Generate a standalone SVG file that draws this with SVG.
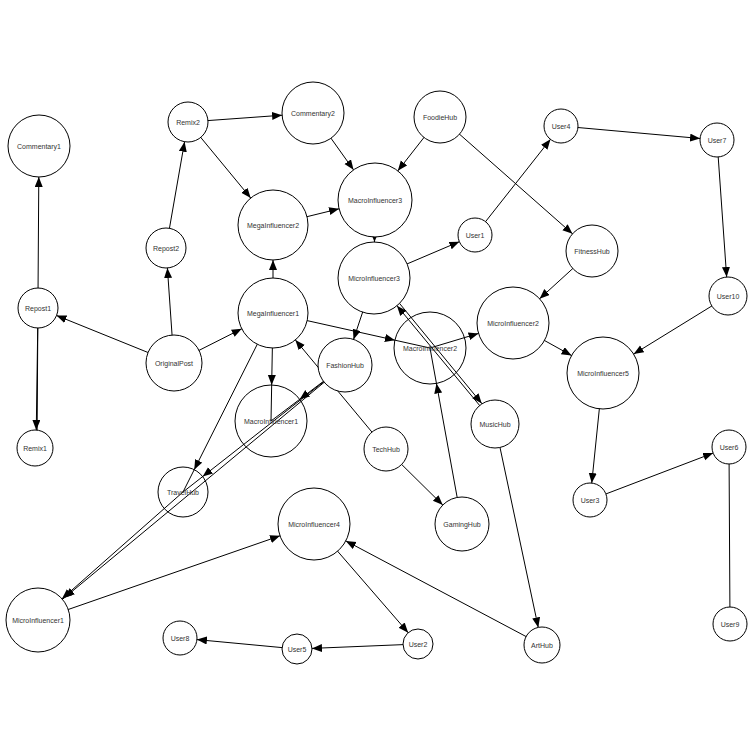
<svg xmlns="http://www.w3.org/2000/svg" width="750" height="750" viewBox="0 0 750 750">
<style>
circle{fill:#fff;stroke:#000;stroke-width:1}
text{font-family:"Liberation Sans",Arial,sans-serif;font-size:7px;text-anchor:middle;dominant-baseline:central;fill:#333}
#edges line{stroke:#000;stroke-width:1}
</style>
<defs>
<marker id="m15" markerUnits="userSpaceOnUse" markerWidth="30" markerHeight="10" refX="25" refY="4" orient="auto"><path d="M0,0L10,4L0,8z"/></marker>
<marker id="m17" markerUnits="userSpaceOnUse" markerWidth="30" markerHeight="10" refX="27" refY="4" orient="auto"><path d="M0,0L10,4L0,8z"/></marker>
<marker id="m18" markerUnits="userSpaceOnUse" markerWidth="30" markerHeight="10" refX="28" refY="4" orient="auto"><path d="M0,0L10,4L0,8z"/></marker>
<marker id="m19" markerUnits="userSpaceOnUse" markerWidth="30" markerHeight="10" refX="29" refY="4" orient="auto"><path d="M0,0L10,4L0,8z"/></marker>
<marker id="m20" markerUnits="userSpaceOnUse" markerWidth="31" markerHeight="10" refX="30" refY="4" orient="auto"><path d="M0,0L10,4L0,8z"/></marker>
<marker id="m22" markerUnits="userSpaceOnUse" markerWidth="33" markerHeight="10" refX="32" refY="4" orient="auto"><path d="M0,0L10,4L0,8z"/></marker>
<marker id="m24" markerUnits="userSpaceOnUse" markerWidth="35" markerHeight="10" refX="34" refY="4" orient="auto"><path d="M0,0L10,4L0,8z"/></marker>
<marker id="m25" markerUnits="userSpaceOnUse" markerWidth="36" markerHeight="10" refX="35" refY="4" orient="auto"><path d="M0,0L10,4L0,8z"/></marker>
<marker id="m26" markerUnits="userSpaceOnUse" markerWidth="37" markerHeight="10" refX="36" refY="4" orient="auto"><path d="M0,0L10,4L0,8z"/></marker>
<marker id="m27" markerUnits="userSpaceOnUse" markerWidth="38" markerHeight="10" refX="37" refY="4" orient="auto"><path d="M0,0L10,4L0,8z"/></marker>
<marker id="m31" markerUnits="userSpaceOnUse" markerWidth="42" markerHeight="10" refX="41" refY="4" orient="auto"><path d="M0,0L10,4L0,8z"/></marker>
<marker id="m32" markerUnits="userSpaceOnUse" markerWidth="43" markerHeight="10" refX="42" refY="4" orient="auto"><path d="M0,0L10,4L0,8z"/></marker>
<marker id="m35" markerUnits="userSpaceOnUse" markerWidth="46" markerHeight="10" refX="45" refY="4" orient="auto"><path d="M0,0L10,4L0,8z"/></marker>
<marker id="m36" markerUnits="userSpaceOnUse" markerWidth="47" markerHeight="10" refX="46" refY="4" orient="auto"><path d="M0,0L10,4L0,8z"/></marker>
<marker id="m37" markerUnits="userSpaceOnUse" markerWidth="48" markerHeight="10" refX="47" refY="4" orient="auto"><path d="M0,0L10,4L0,8z"/></marker>
</defs>
<rect width="750" height="750" fill="#fff"/>
<g id="edges">
<line x1="37" y1="448" x2="39" y2="146" marker-end="url(#m31)"/>
<line x1="38" y1="308" x2="36" y2="448" marker-end="url(#m18)"/>
<line x1="174" y1="363" x2="38" y2="308" marker-end="url(#m20)"/>
<line x1="174" y1="363" x2="166" y2="248" marker-end="url(#m20)"/>
<line x1="166" y1="248" x2="188" y2="122" marker-end="url(#m20)"/>
<line x1="188" y1="122" x2="313" y2="113" marker-end="url(#m31)"/>
<line x1="188" y1="122" x2="273" y2="225" marker-end="url(#m35)"/>
<line x1="174" y1="363" x2="273" y2="313" marker-end="url(#m35)"/>
<line x1="273" y1="313" x2="273" y2="225" marker-end="url(#m35)"/>
<line x1="273" y1="225" x2="375" y2="200" marker-end="url(#m37)"/>
<line x1="313" y1="113" x2="375" y2="200" marker-end="url(#m37)"/>
<line x1="440" y1="117" x2="375" y2="200" marker-end="url(#m37)"/>
<line x1="440" y1="117" x2="592" y2="251" marker-end="url(#m26)"/>
<line x1="375" y1="200" x2="374" y2="278" marker-end="url(#m36)"/>
<line x1="374" y1="278" x2="475" y2="235" marker-end="url(#m17)"/>
<line x1="475" y1="235" x2="561" y2="126" marker-end="url(#m17)"/>
<line x1="561" y1="126" x2="717" y2="140" marker-end="url(#m17)"/>
<line x1="717" y1="140" x2="728" y2="296" marker-end="url(#m19)"/>
<line x1="728" y1="296" x2="603" y2="373" marker-end="url(#m36)"/>
<line x1="592" y1="251" x2="513" y2="323" marker-end="url(#m36)"/>
<line x1="513" y1="323" x2="603" y2="373" marker-end="url(#m36)"/>
<line x1="430" y1="348" x2="513" y2="323" marker-end="url(#m36)"/>
<line x1="273" y1="313" x2="430" y2="348" marker-end="url(#m36)"/>
<line x1="273" y1="313" x2="271" y2="421" marker-end="url(#m36)"/>
<line x1="273" y1="313" x2="183" y2="492" marker-end="url(#m25)"/>
<line x1="374" y1="278" x2="345" y2="365" marker-end="url(#m27)"/>
<line x1="345" y1="365" x2="271" y2="421" marker-end="url(#m36)"/>
<line x1="345" y1="365" x2="183" y2="492" marker-end="url(#m25)"/>
<line x1="345" y1="365" x2="40" y2="618" marker-end="url(#m32)"/>
<line x1="183" y1="492" x2="38" y2="620" marker-end="url(#m32)"/>
<line x1="495" y1="424" x2="374" y2="278" marker-end="url(#m36)"/>
<line x1="377" y1="276" x2="497" y2="422" marker-end="url(#m24)"/>
<line x1="386" y1="449" x2="273" y2="313" marker-end="url(#m35)"/>
<line x1="386" y1="449" x2="462" y2="524" marker-end="url(#m27)"/>
<line x1="462" y1="524" x2="430" y2="348" marker-end="url(#m36)"/>
<line x1="495" y1="424" x2="542" y2="645" marker-end="url(#m18)"/>
<line x1="542" y1="645" x2="314" y2="524" marker-end="url(#m36)"/>
<line x1="38" y1="620" x2="314" y2="524" marker-end="url(#m36)"/>
<line x1="314" y1="524" x2="418" y2="644" marker-end="url(#m15)"/>
<line x1="418" y1="644" x2="297" y2="649" marker-end="url(#m15)"/>
<line x1="297" y1="649" x2="180" y2="638" marker-end="url(#m17)"/>
<line x1="603" y1="373" x2="590" y2="500" marker-end="url(#m17)"/>
<line x1="590" y1="500" x2="729" y2="447" marker-end="url(#m17)"/>
<line x1="729" y1="447" x2="730" y2="624"/>
</g>
<g id="Commentary1"><circle cx="39" cy="146" r="31"/><text x="39" y="146">Commentary1</text></g>
<g id="Repost1"><circle cx="38" cy="308" r="20"/><text x="38" y="308">Repost1</text></g>
<g id="Remix1"><circle cx="35" cy="448" r="18"/><text x="35" y="448">Remix1</text></g>
<g id="Remix2"><circle cx="188" cy="122" r="20"/><text x="188" y="122">Remix2</text></g>
<g id="Commentary2"><circle cx="313" cy="113" r="31"/><text x="313" y="113">Commentary2</text></g>
<g id="Repost2"><circle cx="166" cy="248" r="20"/><text x="166" y="248">Repost2</text></g>
<g id="OriginalPost"><circle cx="174" cy="363" r="28"/><text x="174" y="363">OriginalPost</text></g>
<g id="MegaInfluencer2"><circle cx="273" cy="225" r="35"/><text x="273" y="225">MegaInfluencer2</text></g>
<g id="MegaInfluencer1"><circle cx="273" cy="313" r="35"/><text x="273" y="313">MegaInfluencer1</text></g>
<g id="MacroInfluencer3"><circle cx="375" cy="200" r="37"/><text x="375" y="200">MacroInfluencer3</text></g>
<g id="MicroInfluencer3"><circle cx="374" cy="278" r="36"/><text x="374" y="278">MicroInfluencer3</text></g>
<g id="FashionHub"><circle cx="345" cy="365" r="27"/><text x="345" y="365">FashionHub</text></g>
<g id="MacroInfluencer1"><circle cx="271" cy="421" r="36" fill="none" style="fill:none"/><text x="271" y="421">MacroInfluencer1</text></g>
<g id="TravelHub"><circle cx="183" cy="492" r="25" style="fill:none"/><text x="183" y="492">TravelHub</text></g>
<g id="TechHub"><circle cx="386" cy="449" r="22"/><text x="386" y="449">TechHub</text></g>
<g id="GamingHub"><circle cx="462" cy="524" r="27"/><text x="462" y="524">GamingHub</text></g>
<g id="MacroInfluencer2"><circle cx="430" cy="348" r="36" style="fill:none"/><text x="430" y="348">MacroInfluencer2</text></g>
<g id="MusicHub"><circle cx="495" cy="424" r="24"/><text x="495" y="424">MusicHub</text></g>
<g id="MicroInfluencer2"><circle cx="513" cy="323" r="36"/><text x="513" y="323">MicroInfluencer2</text></g>
<g id="FoodieHub"><circle cx="440" cy="117" r="26"/><text x="440" y="117">FoodieHub</text></g>
<g id="User4"><circle cx="561" cy="126" r="17"/><text x="561" y="126">User4</text></g>
<g id="User7"><circle cx="717" cy="140" r="17"/><text x="717" y="140">User7</text></g>
<g id="User1"><circle cx="475" cy="235" r="17"/><text x="475" y="235">User1</text></g>
<g id="FitnessHub"><circle cx="592" cy="251" r="26"/><text x="592" y="251">FitnessHub</text></g>
<g id="User10"><circle cx="728" cy="296" r="19"/><text x="728" y="296">User10</text></g>
<g id="MicroInfluencer5"><circle cx="603" cy="373" r="36"/><text x="603" y="373">MicroInfluencer5</text></g>
<g id="User3"><circle cx="590" cy="500" r="17"/><text x="590" y="500">User3</text></g>
<g id="User6"><circle cx="729" cy="447" r="17"/><text x="729" y="447">User6</text></g>
<g id="User9"><circle cx="730" cy="624" r="17"/><text x="730" y="624">User9</text></g>
<g id="MicroInfluencer4"><circle cx="314" cy="524" r="36"/><text x="314" y="524">MicroInfluencer4</text></g>
<g id="MicroInfluencer1"><circle cx="38" cy="620" r="32"/><text x="38" y="620">MicroInfluencer1</text></g>
<g id="User8"><circle cx="180" cy="638" r="17"/><text x="180" y="638">User8</text></g>
<g id="User5"><circle cx="297" cy="649" r="15"/><text x="297" y="649">User5</text></g>
<g id="User2"><circle cx="418" cy="644" r="15"/><text x="418" y="644">User2</text></g>
<g id="ArtHub"><circle cx="542" cy="645" r="18"/><text x="542" y="645">ArtHub</text></g>
</svg>
